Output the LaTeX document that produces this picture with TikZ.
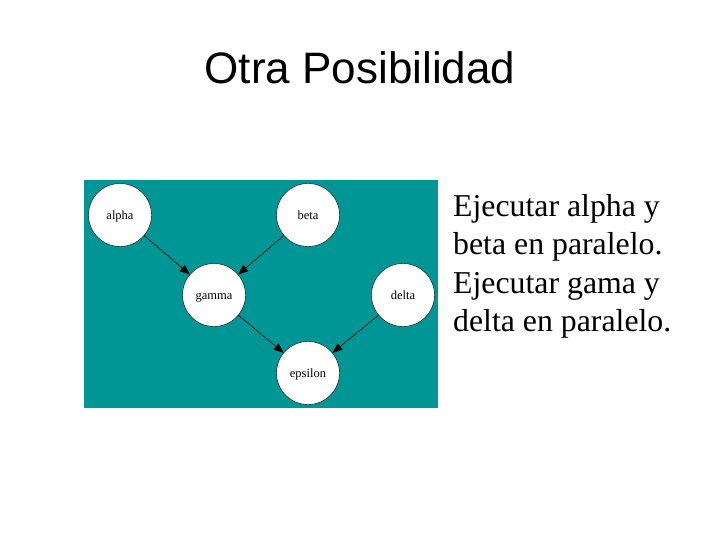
\documentclass[tikz,border=0pt]{standalone}
\usepackage{fontspec}
\setmainfont{Liberation Serif}
\newfontfamily\titlefont{Liberation Sans}
\usepackage{tikz}
\usetikzlibrary{arrows.meta,positioning}
\definecolor{sarcelle}{RGB}{0,150,150}

\begin{document}
\begin{tikzpicture}[x=1pt,y=-1pt,
  tache/.style={circle,draw=black,fill=white,minimum size=63pt,inner sep=0pt,
    text height=2.2ex,text depth=.25ex,font=\fontsize{12.5}{14}\selectfont},
  fleche/.style={-{Triangle[length=10pt,width=8pt]},semithick}]
\useasboundingbox (0,0) rectangle (720,540);
\node[font=\titlefont\fontsize{44}{52}\selectfont] (titre) at (360,68) {Otra Posibilidad};
\fill[sarcelle] (84,180) rectangle (438,408);
% les taches
\node[tache] (alpha) at (120,215) {alpha};
\node[tache] (beta) at (308,215) {beta};
\node[tache] (gamma) at (214,295) {gamma};
\node[tache] (delta) at (403,295) {delta};
\node[tache] (epsilon) at (308,373) {epsilon};
\draw[fleche] (alpha) -- (gamma);
\draw[fleche] (beta) -- (gamma);
\draw[fleche] (gamma) -- (epsilon);
\draw[fleche] (delta) -- (epsilon);
% texte
\node[anchor=north west,align=left,inner sep=0pt,font=\fontsize{31.8}{38.5}\selectfont] (texte) at (453,194)
  {Ejecutar alpha y\\beta en paralelo.\\Ejecutar gama y\\delta en paralelo.};
\end{tikzpicture}
\end{document}
